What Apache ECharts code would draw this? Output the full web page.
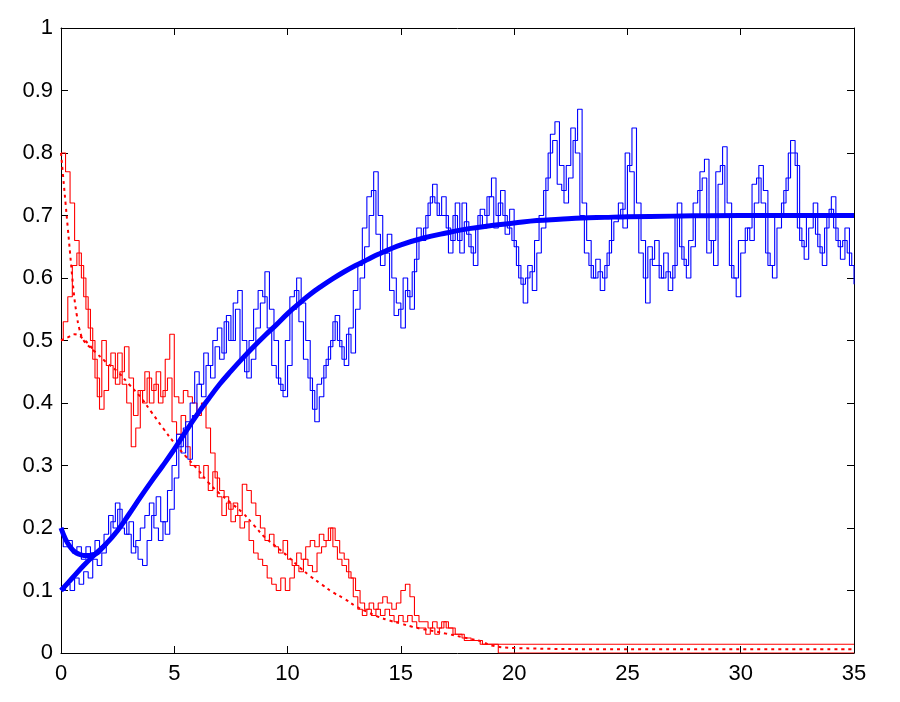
<!DOCTYPE html>
<html>
<head>
<meta charset="utf-8">
<script src="https://cdn.jsdelivr.net/npm/echarts@6/dist/echarts.min.js"></script>
<style>
  html, body { margin: 0; padding: 0; background: #fff; }
  #chart { width: 900px; height: 702px; }
</style>
</head>
<body>
<div id="chart"></div>
<script>
// noisy paths are sampled every noiseStep time units
const noiseStep = 0.2;

const blueNoiseA = [
  0.1, 0.11, 0.1, 0.12, 0.11,
  0.13, 0.12, 0.15, 0.14, 0.16,
  0.18, 0.21, 0.24, 0.2, 0.19,
  0.21, 0.17, 0.15, 0.14, 0.18,
  0.22, 0.25, 0.21, 0.19, 0.23,
  0.28, 0.33, 0.36, 0.31, 0.38,
  0.43, 0.41, 0.46, 0.44, 0.49,
  0.47, 0.53, 0.5, 0.56, 0.58,
  0.5, 0.44, 0.47, 0.52, 0.56,
  0.61, 0.55, 0.5, 0.43, 0.41,
  0.46, 0.55, 0.6, 0.56, 0.5,
  0.42, 0.37, 0.41, 0.46, 0.49,
  0.53, 0.5, 0.47, 0.51, 0.48,
  0.55, 0.6, 0.65, 0.7, 0.77,
  0.7, 0.64, 0.67, 0.6, 0.56,
  0.52, 0.58, 0.55, 0.63, 0.66,
  0.68, 0.72, 0.75, 0.7, 0.73,
  0.68, 0.66, 0.72, 0.64, 0.69,
  0.65, 0.62, 0.7, 0.68, 0.73,
  0.76, 0.7, 0.74, 0.67, 0.71,
  0.65, 0.6, 0.56, 0.62, 0.58,
  0.64, 0.68, 0.76, 0.83, 0.85,
  0.78, 0.72, 0.76, 0.82, 0.87,
  0.72, 0.66, 0.6, 0.63, 0.58,
  0.62, 0.66, 0.69, 0.72, 0.68,
  0.78, 0.84, 0.72, 0.66, 0.56,
  0.63, 0.66, 0.6, 0.64, 0.58,
  0.62, 0.72, 0.63, 0.6, 0.65,
  0.7, 0.77, 0.79, 0.66, 0.62,
  0.75, 0.81, 0.72, 0.6, 0.57,
  0.64, 0.68, 0.66, 0.72, 0.78,
  0.74, 0.62, 0.6, 0.68, 0.72,
  0.76, 0.82, 0.78, 0.66, 0.63,
  0.68, 0.72, 0.65, 0.62, 0.7,
  0.73, 0.66, 0.63, 0.68, 0.62,
  0.59
];

const blueNoiseB = [
  0.2, 0.17, 0.18, 0.16, 0.17,
  0.15, 0.17, 0.16, 0.18, 0.17,
  0.19, 0.22, 0.2, 0.23, 0.21,
  0.19, 0.16, 0.18, 0.2, 0.22,
  0.24, 0.2, 0.18, 0.21, 0.26,
  0.3, 0.35, 0.32, 0.37, 0.4,
  0.45, 0.43, 0.48, 0.46, 0.5,
  0.52, 0.48, 0.54, 0.5, 0.55,
  0.47, 0.45, 0.5, 0.55, 0.58,
  0.57, 0.52, 0.46, 0.44, 0.42,
  0.5, 0.57, 0.58, 0.53, 0.47,
  0.44, 0.39, 0.43, 0.44, 0.47,
  0.5, 0.54, 0.49, 0.46, 0.52,
  0.58, 0.62, 0.68, 0.73, 0.74,
  0.67, 0.62, 0.64, 0.58, 0.54,
  0.55, 0.6, 0.57, 0.61, 0.68,
  0.66, 0.7, 0.73, 0.72, 0.7,
  0.7, 0.64, 0.7, 0.66, 0.72,
  0.67, 0.64, 0.68, 0.71, 0.7,
  0.73, 0.68, 0.72, 0.7, 0.68,
  0.66, 0.62, 0.59, 0.6, 0.61,
  0.66, 0.7, 0.74, 0.8, 0.82,
  0.75, 0.74, 0.78, 0.84, 0.8,
  0.7, 0.64, 0.62, 0.6, 0.61,
  0.6, 0.64, 0.7, 0.7, 0.71,
  0.8, 0.77, 0.7, 0.64, 0.6,
  0.65, 0.62, 0.62, 0.6, 0.61,
  0.6, 0.7, 0.65, 0.62, 0.66,
  0.72, 0.74, 0.76, 0.64, 0.66,
  0.77, 0.78, 0.7, 0.62, 0.6,
  0.66, 0.66, 0.68, 0.75, 0.76,
  0.72, 0.64, 0.62, 0.7, 0.7,
  0.74, 0.8, 0.8, 0.68, 0.65,
  0.7, 0.7, 0.67, 0.64, 0.68,
  0.71, 0.68, 0.65, 0.66, 0.64,
  0.62
];

// red paths run from t=0 to t=20, last value is held until redNoiseEnd
const redNoiseEnd = 35;

const redNoiseA = [
  0.8, 0.77, 0.72, 0.66, 0.62,
  0.57, 0.52, 0.47, 0.41, 0.5,
  0.46, 0.48, 0.43, 0.45, 0.49,
  0.44, 0.38, 0.42, 0.4, 0.44,
  0.42, 0.45, 0.41, 0.47, 0.51,
  0.41, 0.4, 0.42, 0.41, 0.4,
  0.38, 0.4, 0.36, 0.32, 0.28,
  0.26, 0.25, 0.23, 0.24, 0.22,
  0.27, 0.26, 0.24, 0.22, 0.2,
  0.18, 0.19, 0.17, 0.16, 0.18,
  0.15, 0.14, 0.16, 0.15, 0.17,
  0.18, 0.17, 0.19, 0.18, 0.2,
  0.17, 0.15, 0.14, 0.13, 0.12,
  0.1, 0.08, 0.07, 0.08, 0.07,
  0.08, 0.09, 0.08, 0.07, 0.08,
  0.1, 0.11, 0.09, 0.06, 0.05,
  0.05, 0.04, 0.05, 0.04, 0.05,
  0.04, 0.04, 0.03, 0.03, 0.02,
  0.02, 0.02, 0.02, 0.014, 0.014,
  0.014, 0.014, 0.014, 0.014, 0.014,
  0.014
];

const redNoiseB = [
  0.5, 0.53, 0.57, 0.62, 0.64,
  0.6, 0.55, 0.5, 0.44, 0.39,
  0.42, 0.46, 0.44, 0.48, 0.43,
  0.4, 0.33, 0.36, 0.42, 0.45,
  0.4, 0.43, 0.4, 0.42, 0.44,
  0.37, 0.35, 0.38, 0.33, 0.3,
  0.3, 0.28, 0.3, 0.26, 0.29,
  0.25, 0.22, 0.24, 0.21, 0.22,
  0.2, 0.21, 0.18, 0.16, 0.15,
  0.14, 0.12, 0.11, 0.1, 0.12,
  0.1, 0.12, 0.14, 0.13, 0.15,
  0.14, 0.13, 0.16, 0.17, 0.18,
  0.2, 0.18, 0.16, 0.15, 0.12,
  0.09, 0.07, 0.06, 0.07, 0.06,
  0.07, 0.06, 0.07, 0.06, 0.05,
  0.06, 0.05, 0.06, 0.05, 0.04,
  0.04, 0.03, 0.04, 0.03, 0.04,
  0.05, 0.04, 0.03, 0.03, 0.024,
  0.024, 0.02, 0.02, 0.014, 0.014,
  0.014, 0.014, 0, 0, 0,
  0
];

// mean curves
const blueMeanT = [0, 0.5, 1, 1.5, 2, 2.5, 3, 3.5, 4, 4.5, 5, 5.5, 6, 6.5, 7, 7.5, 8, 8.5, 9, 9.5,
  10, 10.5, 11, 11.5, 12, 12.5, 13, 13.5, 14, 15, 16, 17, 18, 19, 20, 21, 22, 23, 24, 25, 27, 30, 35];
const blueMeanA = [0.1, 0.12, 0.14, 0.158, 0.175, 0.196, 0.222, 0.249, 0.275, 0.3, 0.326, 0.354, 0.381, 0.406, 0.43, 0.451, 0.471, 0.49, 0.508, 0.525,
  0.543, 0.559, 0.574, 0.587, 0.599, 0.61, 0.62, 0.629, 0.638, 0.653, 0.664, 0.672, 0.679, 0.684, 0.688, 0.692, 0.694, 0.696, 0.697, 0.698, 0.699, 0.7, 0.7];
const blueMeanBT = [0, 0.2, 0.4, 0.6, 0.8, 1, 1.2, 1.4, 1.6, 1.8, 2];
const blueMeanB = [0.2, 0.182, 0.17, 0.162, 0.158, 0.156, 0.156, 0.157, 0.16, 0.167, 0.175];

const redMeanT = [0, 0.1, 0.2, 0.3, 0.4, 0.5, 0.6, 0.7, 0.8, 1, 1.5, 2, 2.5, 3, 3.5, 4, 4.5, 5, 5.5, 6,
  6.5, 7, 7.5, 8, 8.5, 9, 9.5, 10, 10.5, 11, 11.5, 12, 12.5, 13, 13.5, 14, 14.5, 15, 15.5, 16, 17, 18, 18.6, 19, 20, 25, 35];
const redMeanA = [0.8, 0.76, 0.72, 0.68, 0.64, 0.6, 0.565, 0.54, 0.52, 0.5, 0.482, 0.465, 0.45, 0.43, 0.41, 0.385, 0.36, 0.336, 0.315, 0.295,
  0.273, 0.255, 0.24, 0.225, 0.205, 0.185, 0.17, 0.155, 0.138, 0.123, 0.11, 0.097, 0.087, 0.075, 0.066, 0.058, 0.052, 0.047, 0.042, 0.038,
  0.031, 0.023, 0.018, 0.012, 0.008, 0.006, 0.006];
const redMeanBT = [0, 0.3, 0.6, 1, 1.5];
const redMeanB = [0.5, 0.505, 0.51, 0.502, 0.482];

const xTicks = { min: 0, max: 35, interval: 5 };
const yTicks = { min: 0, max: 1, interval: 0.1 };

// helpers to pair times with values
const onGrid = vals => vals.map((v, i) => [+(i * noiseStep).toFixed(1), v]);
const held = vals => onGrid(vals).concat([[redNoiseEnd, vals[vals.length - 1]]]);
const zip = (t, v) => t.map((x, i) => [x, v[i]]);

const BLUE = '#0000ff';
const RED = '#ff0000';
const FONT = 'Liberation Sans';

const myChart = echarts.init(document.getElementById('chart'));

const axisCommon = {
  type: 'value',
  axisLine: { show: true, onZero: false, lineStyle: { color: '#000', width: 1 } },
  axisTick: { show: true, inside: true, length: 7, lineStyle: { color: '#000', width: 1 } },
  splitLine: { show: false },
  axisLabel: { color: '#000', fontSize: 22, fontFamily: FONT }
};

const noisy = (data, color, step) => ({
  type: 'line', data, step, showSymbol: false, symbol: 'none',
  lineStyle: { color, width: 1.1 }, silent: true
});

const meanLine = (data, lineStyle) => ({
  type: 'line', data, smooth: 0.4, symbol: 'none', lineStyle, silent: true
});

const options = {
  animation: false,
  backgroundColor: '#fff',
  grid: { left: 61, right: 46, top: 28, bottom: 49, containLabel: false },
  xAxis: [
    { ...axisCommon, ...xTicks, position: 'bottom', axisLabel: { ...axisCommon.axisLabel, margin: 10 } },
    { ...axisCommon, ...xTicks, position: 'top', axisLabel: { show: false } }
  ],
  yAxis: [
    { ...axisCommon, ...yTicks, position: 'left', axisLabel: { ...axisCommon.axisLabel, margin: 8 } },
    { ...axisCommon, ...yTicks, position: 'right', axisLabel: { show: false } }
  ],
  series: [
    noisy(held(redNoiseA), RED, 'end'),
    noisy(held(redNoiseB), RED, 'middle'),
    noisy(onGrid(blueNoiseA), BLUE, 'end'),
    noisy(onGrid(blueNoiseB), BLUE, 'middle'),
    meanLine(zip(redMeanT, redMeanA), { color: RED, width: 2, type: [3, 4] }),
    meanLine(zip(redMeanBT, redMeanB), { color: RED, width: 2, type: [3, 4] }),
    meanLine(zip(blueMeanT, blueMeanA), { color: BLUE, width: 5 }),
    meanLine(zip(blueMeanBT, blueMeanB), { color: BLUE, width: 5 })
  ]
};

myChart.setOption(options);
</script>
</body>
</html>
